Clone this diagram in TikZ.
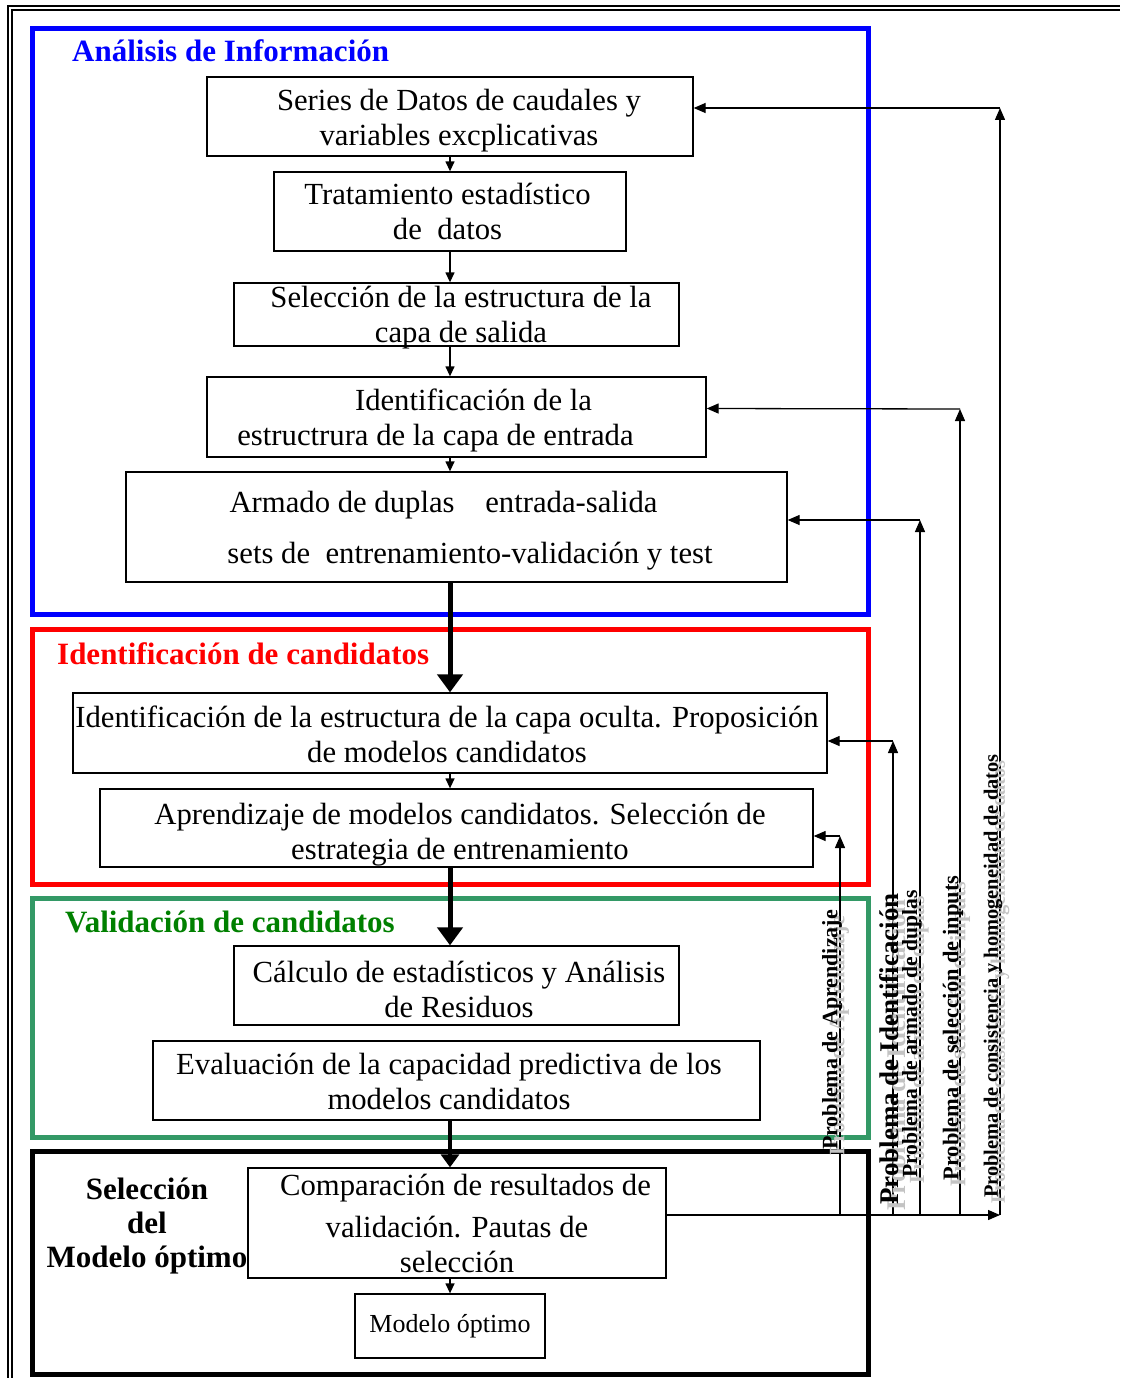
\documentclass[tikz,border=0pt]{standalone}
\usepackage{fontspec}
\setmainfont{Liberation Serif}
\usetikzlibrary{arrows.meta}

\definecolor{frameblue}{RGB}{0,0,255}
\definecolor{framered}{RGB}{255,0,0}
\definecolor{framegreen}{RGB}{51,153,102}
\definecolor{titlegreen}{RGB}{0,128,0}
\definecolor{ghostgray}{RGB}{195,195,195}

\newcommand\bxfont{\fontsize{30.7}{35}\selectfont}
\newcommand\ttlfont{\fontsize{31}{34}\selectfont\bfseries}
% invisible strut that pushes the first text line down
\newcommand\dnstrut[1]{\rule{0pt}{#1pt}}

% vertical feedback label with its grey shadow copy
\newcommand\plabel[5]{%
  \node[vlabel, text=ghostgray, font=\fontsize{#4}{#4}\selectfont\bfseries] (#1s) at (#2+7,#3+6) {#5};
  \node[vlabel, font=\fontsize{#4}{#4}\selectfont\bfseries] (#1) at (#2,#3) {#5};}

\begin{document}
\begin{tikzpicture}[x=1pt,y=-1pt,
  box/.style={draw, line width=1.3pt, inner sep=0pt, align=center, font=\bxfont},
  frame/.style={line width=5pt},
  ttl/.style={anchor=base west, inner sep=0pt, font=\ttlfont},
  vlabel/.style={rotate=90, inner sep=0pt},
  arrthin/.style={line width=1.3pt, -{Triangle[length=12pt,width=10pt]}},
  arrsmall/.style={line width=1.3pt, -{Triangle[length=10pt,width=9pt]}},
  arrthick/.style={line width=5pt, -{Triangle[length=18pt,width=25pt]}},
  arrmid/.style={line width=4pt, -{Triangle[length=13pt,width=18pt]}}]

\useasboundingbox (0,0) rectangle (1120,1378);

% page border (double rule)
\draw[line width=2pt] (8,1378) -- (8,6) -- (1120,6);
\draw[line width=2pt] (12,1378) -- (12,10) -- (1120,10);

% stage frames
\draw[frame, frameblue] (32,29) rectangle (868,614);
\draw[frame, framered] (32,629) rectangle (868,884);
\draw[frame, framegreen] (32,898) rectangle (868,1137);
\draw[frame, black] (32,1151) rectangle (868,1374);

% stage titles
\node[ttl, text=frameblue] (t1) at (72,62) {Análisis de Información};
\node[ttl, text=framered] (t2) at (57,664) {Identificación de candidatos};
\node[ttl, text=titlegreen] (t3) at (65,932) {Validación de candidatos};
\node[inner sep=0pt, align=center, font=\fontsize{31}{34}\selectfont\bfseries] (t4) at (147,1226)
  {Selección\\del\\Modelo óptimo};

% process boxes
\node[box, minimum width=486pt, minimum height=79pt] (b1) at (450,116.5)
  {\dnstrut{29}\hspace*{18pt}Series de Datos de caudales y\\\hspace*{18pt}variables excplicativas};
\node[box, minimum width=352pt, minimum height=79pt] (b2) at (450,211.5)
  {Tratamiento estadístico\hspace*{5pt}\\de\ \ datos\hspace*{5pt}};
\node[box, inner ysep=-4pt, minimum width=445pt, minimum height=63pt] (b3) at (456.5,314.5)
  {\dnstrut{27}\hspace*{9pt}Selección de la estructura de la\\\hspace*{9pt}capa de salida};
\node[box, minimum width=499pt, minimum height=80pt] (b4) at (456.5,417)
  {\dnstrut{29}\hspace*{34pt}Identificación de la\\estructrura de la capa de entrada\hspace*{42pt}};
\node[box, minimum width=661pt, minimum height=110pt] (b5) at (456.5,527)
  {\dnstrut{29}Armado de duplas\ \ \ \ entrada-salida\hspace*{26pt}\\[16pt]\hspace*{27pt}sets de\ \ entrenamiento-validación y test};
\node[box, minimum width=754pt, minimum height=80pt] (b6) at (450,733)
  {\dnstrut{25}Identificación de la estructura de la capa oculta. Proposición\hspace*{6pt}\\de modelos candidatos\hspace*{6pt}};
\node[box, minimum width=713pt, minimum height=78pt] (b7) at (456.5,828)
  {\dnstrut{35}\hspace*{7pt}Aprendizaje de modelos candidatos. Selección de\\\hspace*{7pt}estrategia de entrenamiento};
\node[box, minimum width=445pt, minimum height=79pt] (b8) at (456.5,985.5)
  {\dnstrut{29}\hspace*{5pt}Cálculo de estadísticos y Análisis\\\hspace*{5pt}de Residuos};
\node[box, minimum width=607pt, minimum height=79pt] (b9) at (456.5,1080.5)
  {\dnstrut{24}Evaluación de la capacidad predictiva de los\hspace*{15pt}\\modelos candidatos\hspace*{15pt}};
\node[box, minimum width=418pt, minimum height=110pt] (b10) at (457,1223)
  {\hspace*{17pt}Comparación de resultados de\\[7pt]validación. Pautas de\\selección};
\node[box, minimum width=190pt, minimum height=64pt, font=\fontsize{26}{28}\selectfont] (b11) at (450,1326)
  {Modelo óptimo};

% main flow
\draw[arrsmall] (b1.south) -- (b2.north -| b1.south);
\draw[arrsmall] (b2.south -| b1.south) -- (b3.north -| b1.south);
\draw[arrsmall] (b3.south -| b1.south) -- (b4.north -| b1.south);
\draw[arrsmall] (b4.south -| b1.south) -- (b5.north -| b1.south);
\draw[arrthick] (b5.south -| b1.south) -- (b6.north -| b1.south);
\draw[arrsmall] (b6.south -| b1.south) -- (b7.north -| b1.south);
\draw[arrthick] (b7.south -| b1.south) -- (b8.north -| b1.south);
\draw[arrmid] (b9.south -| b1.south) -- (b10.north -| b1.south);
\draw[arrsmall] (b10.south -| b1.south) -- (b11.north);

% feedback paths
\coordinate (fb) at (1000,1215);
\coordinate (l1b) at (840,1215);  \coordinate (l1t) at (840,836);
\coordinate (l2b) at (893,1215);  \coordinate (l2t) at (893,741);
\coordinate (l3b) at (920,1215);  \coordinate (l3t) at (920,520);
\coordinate (l4b) at (960,1215);  \coordinate (l4t) at (960,409);
\coordinate (l5t) at (1000,108);

\draw[arrthin] ([yshift=8pt]b10.east) -- (fb);
\draw[arrthin] (l1b) -- (l1t);
\draw[arrthin] (l1t) -- ([yshift=-8pt]b7.east);
\draw[arrthin] (l2b) -- (l2t);
\draw[arrthin] (l2t) -- ([yshift=-8pt]b6.east);
\draw[arrthin] (l3b) -- (l3t);
\draw[arrthin] (l3t) -- ([yshift=7pt]b5.east);
\draw[arrthin] (l4b) -- (l4t);
\draw[arrthin] (l4t) -- ([yshift=8.5pt]b4.east);
\draw[arrthin] (fb) -- (l5t);
\draw[arrthin] (l5t) -- ([yshift=8.5pt]b1.east);

% feedback labels
\plabel{p1}{832}{1030}{22}{Problema de Aprendizaje}
\plabel{p2}{889}{1049}{27}{Problema de Identificación}
\plabel{p3}{912}{1034}{21.6}{Problema de armado de duplas}
\plabel{p4}{953}{1028}{22.4}{Problema de selección de inputs}
\plabel{p5}{993}{976}{20.4}{Problema de consistencia y homogeneidad de datos}

\end{tikzpicture}
\end{document}
